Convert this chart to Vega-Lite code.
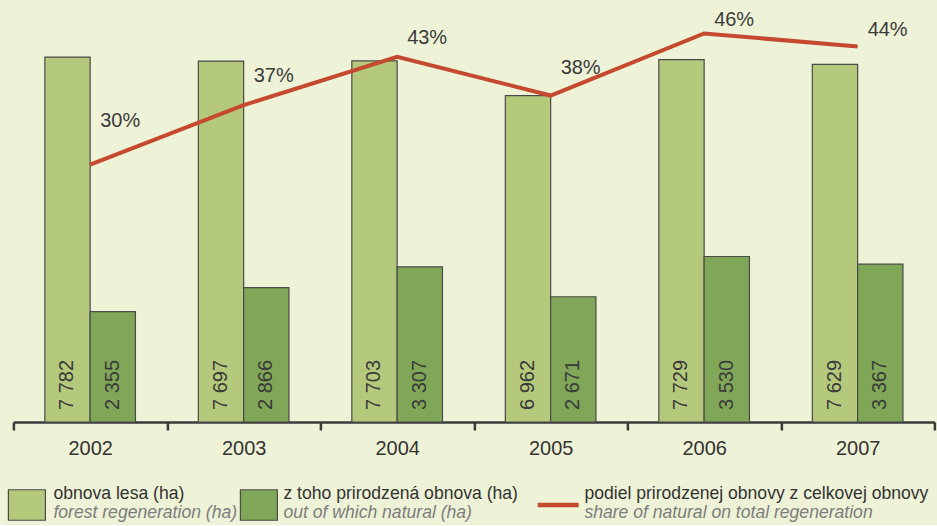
{
  "$schema": "https://vega.github.io/schema/vega-lite/v6.json",
  "background": "#eef2d6",
  "padding": {"left": 7.4, "top": 0, "right": 2, "bottom": 0},
  "spacing": 26,
  "config": {
    "view": {"stroke": null},
    "font": "Liberation Sans",
    "locale": {"number": {"decimal": ",", "thousands": " ", "grouping": [3], "currency": ["", " €"]}}
  },
  "datasets": {
    "bars": [
      {"year": "2002", "series": "forest", "value": 7782},
      {"year": "2002", "series": "natural", "value": 2355},
      {"year": "2003", "series": "forest", "value": 7697},
      {"year": "2003", "series": "natural", "value": 2866},
      {"year": "2004", "series": "forest", "value": 7703},
      {"year": "2004", "series": "natural", "value": 3307},
      {"year": "2005", "series": "forest", "value": 6962},
      {"year": "2005", "series": "natural", "value": 2671},
      {"year": "2006", "series": "forest", "value": 7729},
      {"year": "2006", "series": "natural", "value": 3530},
      {"year": "2007", "series": "forest", "value": 7629},
      {"year": "2007", "series": "natural", "value": 3367}
    ],
    "share": [
      {"year": "2002", "share": 0.3026},
      {"year": "2003", "share": 0.3724},
      {"year": "2004", "share": 0.4293},
      {"year": "2005", "share": 0.3837},
      {"year": "2006", "share": 0.4567},
      {"year": "2007", "share": 0.4413}
    ],
    "legend": [
      {"series": "forest", "sk": "obnova lesa (ha)", "en": "forest regeneration (ha)"},
      {"series": "natural", "sk": "z toho prirodzená obnova (ha)", "en": "out of which natural (ha)"},
      {"series": "share", "sk": "podiel prirodzenej obnovy z celkovej obnovy", "en": "share of natural on total regeneration"}
    ]
  },
  "vconcat": [
    {
      "width": 921,
      "height": 422,
      "layer": [
        {
          "data": {"name": "bars"},
          "encoding": {
            "x": {
              "field": "year", "type": "nominal",
              "scale": {"paddingInner": 0, "paddingOuter": 0},
              "axis": {
                "title": null, "labelAngle": 0, "labelFontSize": 20, "labelColor": "#333333",
                "labelPadding": 9, "domainColor": "#3a3a3a", "domainWidth": 2.5,
                "tickColor": "#3a3a3a", "tickWidth": 2.5, "tickSize": 8, "tickBand": "extent"
              }
            },
            "xOffset": {"field": "series", "type": "nominal", "scale": {"paddingInner": 0, "paddingOuter": 0.694, "domain": ["forest", "natural"]}}
          },
          "layer": [
            {
              "mark": {"type": "bar", "stroke": "#4a4a4a", "strokeWidth": 1.2},
              "encoding": {
                "y": {"field": "value", "type": "quantitative", "scale": {"domain": [0, 8960]}, "axis": null},
                "color": {
                  "field": "series", "type": "nominal",
                  "scale": {"domain": ["forest", "natural", "share"], "range": ["#b5c97c", "#80a657", "#c4492f"]},
                  "legend": null
                }
              }
            },
            {
              "mark": {"type": "text", "angle": 270, "align": "left", "baseline": "middle", "dx": 12, "fontSize": 20, "color": "#3a3a3a"},
              "encoding": {
                "y": {"datum": 0, "type": "quantitative"},
                "text": {"field": "value", "type": "quantitative", "format": ",d"}
              }
            }
          ]
        },
        {
          "data": {"name": "share"},
          "mark": {"type": "line", "color": "#c4492f", "strokeWidth": 4},
          "encoding": {
            "x": {"field": "year", "type": "nominal"},
            "y": {"field": "share", "type": "quantitative", "scale": {"domain": [0, 0.496]}, "axis": null}
          }
        },
        {
          "data": {"name": "share"},
          "mark": {"type": "text", "dx": 30, "fontSize": 20, "color": "#3a3a3a", "align": "center", "baseline": "middle"},
          "encoding": {
            "x": {"field": "year", "type": "nominal"},
            "y": {"field": "share", "type": "quantitative", "scale": {"domain": [-0.1557, 0.4876], "zero": false}, "axis": null},
            "text": {"field": "share", "type": "quantitative", "format": ".0%"}
          }
        }
      ],
      "resolve": {"scale": {"y": "independent"}}
    },
    {
      "hconcat": [
        {
          "width": 232,
          "height": 40,
          "data": {"name": "legend"},
          "transform": [{"filter": "datum.series == 'forest'"}],
          "encoding": {"x": {"field": "series", "type": "nominal", "bandPosition": 0, "scale": {"paddingInner": 0, "paddingOuter": 0}, "axis": null}},
          "layer": [
            {
              "mark": {"type": "tick", "orient": "vertical", "size": 30.5, "thickness": 37, "xOffset": 13.5, "stroke": "#4a4a4a", "strokeWidth": 1.2, "opacity": 1},
              "encoding": {"color": {"field": "series", "type": "nominal", "legend": null}}
            },
            {
              "mark": {"type": "text", "align": "left", "baseline": "middle", "dx": 40, "dy": -11, "fontSize": 17.6, "color": "#333333"},
              "encoding": {"text": {"field": "sk", "type": "nominal"}}
            },
            {
              "mark": {"type": "text", "align": "left", "baseline": "middle", "dx": 40, "dy": 8, "fontSize": 17.6, "fontStyle": "italic", "color": "#7d7d7d"},
              "encoding": {"text": {"field": "en", "type": "nominal"}}
            }
          ]
        },
        {
          "width": 298,
          "height": 40,
          "data": {"name": "legend"},
          "transform": [{"filter": "datum.series == 'natural'"}],
          "encoding": {"x": {"field": "series", "type": "nominal", "bandPosition": 0, "scale": {"paddingInner": 0, "paddingOuter": 0}, "axis": null}},
          "layer": [
            {
              "mark": {"type": "tick", "orient": "vertical", "size": 30.5, "thickness": 37, "xOffset": 13.5, "stroke": "#4a4a4a", "strokeWidth": 1.2, "opacity": 1},
              "encoding": {"color": {"field": "series", "type": "nominal", "legend": null}}
            },
            {
              "mark": {"type": "text", "align": "left", "baseline": "middle", "dx": 38, "dy": -11, "fontSize": 17.6, "color": "#333333"},
              "encoding": {"text": {"field": "sk", "type": "nominal"}}
            },
            {
              "mark": {"type": "text", "align": "left", "baseline": "middle", "dx": 38, "dy": 8, "fontSize": 17.6, "fontStyle": "italic", "color": "#7d7d7d"},
              "encoding": {"text": {"field": "en", "type": "nominal"}}
            }
          ]
        },
        {
          "width": 392,
          "height": 40,
          "data": {"name": "legend"},
          "transform": [{"filter": "datum.series == 'share'"}],
          "encoding": {"x": {"field": "series", "type": "nominal", "bandPosition": 0, "scale": {"paddingInner": 0, "paddingOuter": 0}, "axis": null}},
          "layer": [
            {
              "mark": {"type": "tick", "orient": "vertical", "size": 4.5, "thickness": 41, "xOffset": 14.8, "opacity": 1},
              "encoding": {"color": {"field": "series", "type": "nominal", "legend": null}}
            },
            {
              "mark": {"type": "text", "align": "left", "baseline": "middle", "dx": 41, "dy": -11, "fontSize": 17.6, "color": "#333333"},
              "encoding": {"text": {"field": "sk", "type": "nominal"}}
            },
            {
              "mark": {"type": "text", "align": "left", "baseline": "middle", "dx": 41, "dy": 8, "fontSize": 17.6, "fontStyle": "italic", "color": "#7d7d7d"},
              "encoding": {"text": {"field": "en", "type": "nominal"}}
            }
          ]
        }
      ],
      "spacing": 0,
      "bounds": "flush"
    }
  ]
}
